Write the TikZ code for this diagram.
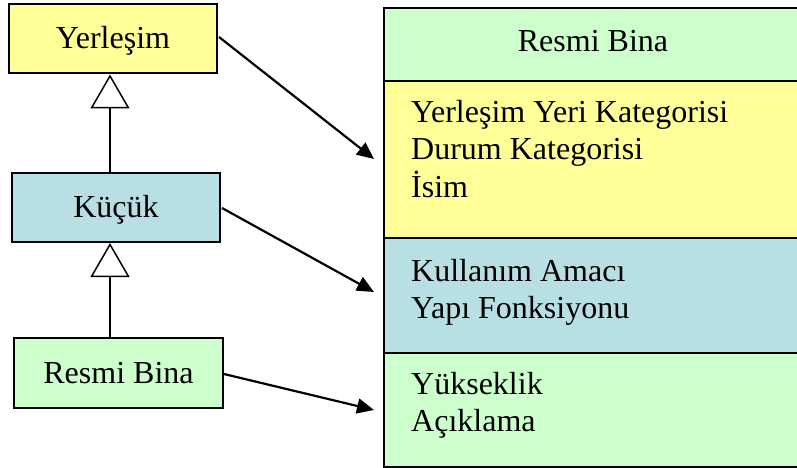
\documentclass[tikz,border=0pt]{standalone}
\usepackage{fontspec}
\setmainfont{Liberation Serif}
\usetikzlibrary{arrows.meta}
\definecolor{cyel}{HTML}{FFFF99}
\definecolor{cblu}{HTML}{B8DFE3}
\definecolor{cgrn}{HTML}{CCFFCC}
\begin{document}
\begin{tikzpicture}[x=1pt,y=-1pt,
  every node/.style={font=\fontsize{32}{37}\selectfont, inner sep=0pt},
  cls/.style={draw=black, line width=2pt, minimum width=208pt, minimum height=69pt, text height=21pt, text depth=1pt},
  part/.style={draw=black, line width=2pt, anchor=north west, minimum width=420pt},
  attr/.style={anchor=base west},
  assoc/.style={line width=2.2pt, -{Triangle[length=17pt,width=15pt]}},
  inherit/.style={line width=1.5pt, -{Triangle[open,length=34pt,width=39pt,fill=white,line width=1.5pt]}}
]
\useasboundingbox (0,0) rectangle (797,468);
% left classes
\node[cls, fill=cyel] (yer) at (113,38.5) {Yerleşim};
\node[cls, fill=cblu] (kuc) at (116,207.5) {Küçük};
\node[cls, fill=cgrn, minimum width=209pt, minimum height=70pt] (res) at (118.5,373) {Resmi Bina};
% right compound class
\node[part, fill=cgrn, minimum height=73pt] (hdr) at (383,7) {};
\node[part, fill=cyel, minimum height=157pt] (pyer) at (383,80) {};
\node[part, fill=cblu, minimum height=115pt] (pkuc) at (383,237) {};
\node[part, fill=cgrn, minimum height=114pt] (pres) at (383,352) {};
\node[anchor=base] (htxt) at (593,52) {Resmi Bina};
\node[attr] (a1) at (411,122) {Yerleşim Yeri Kategorisi};
\node[attr] (a2) at (411,159) {Durum Kategorisi};
\node[attr] (a3) at (411,197) {İsim};
\node[attr] (a4) at (411,281) {Kullanım Amacı};
\node[attr] (a5) at (411,318) {Yapı Fonksiyonu};
\node[attr] (a6) at (411,394) {Yükseklik};
\node[attr] (a7) at (411,431) {Açıklama};
% inheritance
\draw[inherit] (kuc.north -| 110,0) -- (110,74.5) coordinate (t1);
\draw[inherit] (res.north -| 110,0) -- (110,243) coordinate (t2);
% associations
\coordinate (e1) at (374,159);
\coordinate (e2) at (374,292);
\coordinate (e3) at (374,410);
\draw[assoc] (219,37) -- (e1);
\draw[assoc] (222,208) -- (e2);
\draw[assoc] (224,374) -- (e3);
\end{tikzpicture}
\end{document}
